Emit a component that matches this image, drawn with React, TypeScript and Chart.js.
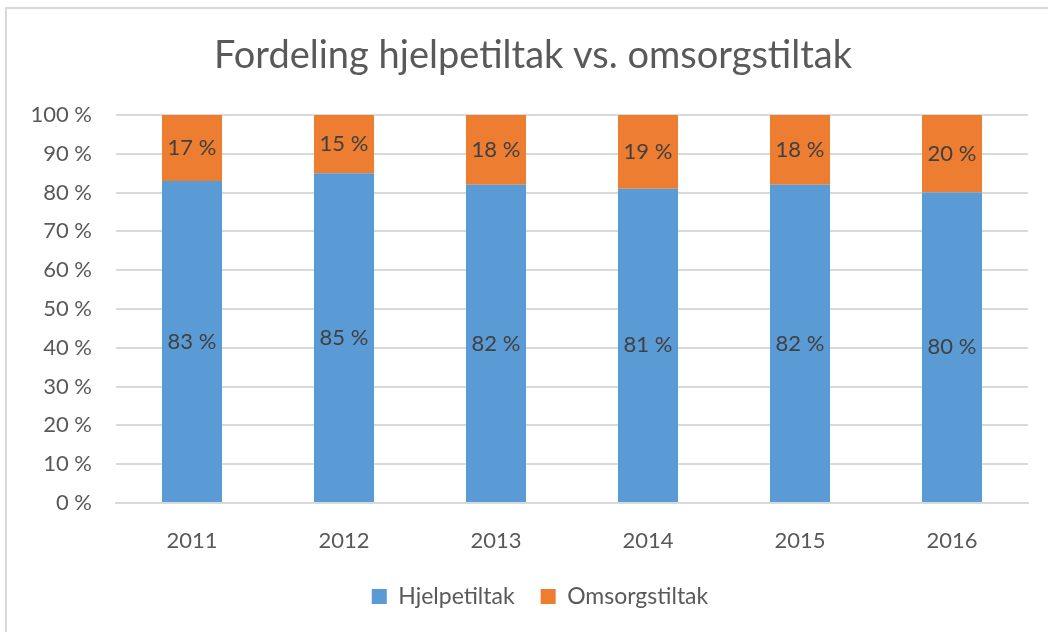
import React, { useEffect, useRef } from "react";
import { Chart, registerables } from "chart.js";

Chart.register(...registerables);

const categories = ["2011", "2012", "2013", "2014", "2015", "2016"];
const hjelpetiltak = [83, 85, 82, 81, 82, 80];
const omsorgstiltak = [17, 15, 18, 19, 18, 20];
const yTicks = [0, 10, 20, 30, 40, 50, 60, 70, 80, 90, 100];
const titleText = "Fordeling hjelpetiltak vs. omsorgstiltak";

const FONT = "Lato, 'Open Sans', sans-serif";

const labelPlugin = {
  id: "segLabels",
  afterDatasetsDraw(chart: any) {
    const ctx = chart.ctx;
    ctx.save();
    ctx.font = `22px ${FONT}`;
    ctx.fillStyle = "#404040";
    ctx.textAlign = "center";
    ctx.textBaseline = "middle";
    chart.data.datasets.forEach((ds: any, di: number) => {
      const meta = chart.getDatasetMeta(di);
      meta.data.forEach((el: any, i: number) => {
        const y = (el.y + el.base) / 2;
        ctx.fillText(`${ds.data[i]} %`, el.x, y);
      });
    });
    ctx.restore();
  },
};

const titlePlugin = {
  id: "customTitle",
  afterDraw(chart: any) {
    const ctx = chart.ctx;
    ctx.save();
    ctx.font = `38px ${FONT}`;
    ctx.fillStyle = "#595959";
    ctx.textAlign = "center";
    ctx.textBaseline = "middle";
    ctx.fillText(titleText, 533, 56);
    ctx.restore();
  },
};

const legendShift = {
  id: "legendShift",
  afterLayout(chart: any) {
    const lg = chart.legend;
    if (!lg) return;
    lg.left += 26;
    lg.right += 26;
    lg.top -= 2;
    lg.bottom -= 2;
    if (lg.legendHitBoxes) {
      lg.legendHitBoxes.forEach((b: any) => {
        b.left += 26;
        b.top -= 2;
      });
    }
  },
};

export default function App() {
  const ref = useRef<HTMLCanvasElement>(null);
  useEffect(() => {
    document.body.style.margin = "0";
    const chart = new Chart(ref.current!, {
      type: "bar",
      data: {
        labels: categories,
        datasets: [
          {
            label: "Hjelpetiltak",
            data: hjelpetiltak,
            backgroundColor: "#5b9bd5",
            barPercentage: 0.79,
            categoryPercentage: 0.5,
          },
          {
            label: "Omsorgstiltak",
            data: omsorgstiltak,
            backgroundColor: "#ed7d31",
            barPercentage: 0.79,
            categoryPercentage: 0.5,
          },
        ],
      },
      options: {
        animation: false,
        responsive: false,
        layout: { padding: { left: 0, right: 20, top: 115, bottom: 12 } },
        plugins: {
          title: { display: false },
          legend: {
            position: "bottom",
            labels: {
              color: "#595959",
              font: { family: FONT, size: 23 },
              boxWidth: 15,
              boxHeight: 15,
              padding: 26,
            },
          },
          tooltip: { enabled: false },
        },
        scales: {
          x: {
            stacked: true,
            grid: { display: false },
            border: { color: "#d9d9d9", width: 2 },
            ticks: { color: "#595959", font: { family: FONT, size: 22 }, padding: 17 },
            afterFit: (s: any) => {
              s.height = 58;
            },
          },
          y: {
            stacked: true,
            min: 0,
            max: 100,
            afterBuildTicks: (s: any) => {
              s.ticks = yTicks.map((v) => ({ value: v }));
            },
            ticks: {
              color: "#595959",
              font: { family: FONT, size: 22 },
              padding: 24,
              callback: (v: any) => `${v} %`,
            },
            grid: { color: "#d9d9d9", lineWidth: 2, drawTicks: false },
            border: { display: false },
            afterFit: (s: any) => {
              s.width = 116;
            },
          },
        },
      },
      plugins: [labelPlugin, titlePlugin, legendShift],
    });
    return () => chart.destroy();
  }, []);
  return (
    <div style={{ position: "relative", width: 1048, height: 632, overflow: "hidden", background: "#fff" }}>
      <div
        style={{
          position: "absolute",
          left: 5,
          top: 7,
          width: 1060,
          height: 640,
          border: "2px solid #d9d9d9",
          boxSizing: "border-box",
        }}
      />
      <canvas ref={ref} width={1048} height={632} style={{ position: "absolute", left: 0, top: 0 }} />
    </div>
  );
}
